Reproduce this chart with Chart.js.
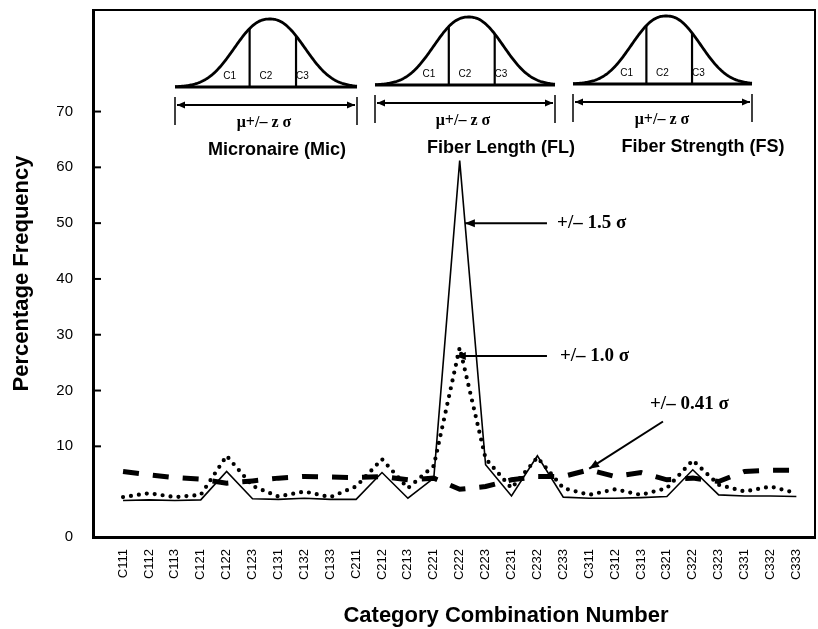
<!DOCTYPE html>
<html>
<head>
<meta charset="utf-8">
<script src="https://cdn.jsdelivr.net/npm/chart.js@4.4.1/dist/chart.umd.min.js"></script>
<style>
  body { margin: 0; background: #fff; }
  canvas { display: block; }
</style>
</head>
<body>
<canvas id="chart" width="818" height="629"></canvas>
<script>
// category combinations (Mic, FL, FS classes)
const categories = ['C111', 'C112', 'C113', 'C121', 'C122', 'C123', 'C131', 'C132', 'C133',
  'C211', 'C212', 'C213', 'C221', 'C222', 'C223', 'C231', 'C232', 'C233',
  'C311', 'C312', 'C313', 'C321', 'C322', 'C323', 'C331', 'C332', 'C333'];

// percentage frequency for each z value
const sigma15 = [0.3, 0.4, 0.3, 0.4, 5.5, 0.6, 0.5, 0.7, 0.5,
  0.5, 5.3, 0.7, 4.3, 61.2, 6.7, 1.1, 8.3, 0.9,
  0.7, 0.7, 0.8, 1.0, 5.8, 1.3, 1.1, 1.1, 1.0];
const sigma10 = [0.9, 1.6, 0.9, 1.3, 8.3, 2.9, 1.0, 1.9, 0.9,
  2.8, 7.7, 2.5, 6.5, 27.7, 7.8, 2.5, 8.0, 2.5,
  1.3, 2.3, 1.3, 2.5, 7.5, 3.1, 1.9, 2.8, 1.6];
const sigma041 = [5.5, 4.9, 4.4, 4.1, 3.4, 3.8, 4.3, 4.6, 4.5,
  4.4, 4.6, 4.0, 4.3, 2.3, 2.8, 4.0, 4.6, 4.6,
  5.8, 4.6, 5.3, 4.0, 4.3, 3.7, 5.5, 5.7, 5.7];

const yTicks = [10, 20, 30, 40, 50, 60, 70];
const yMin = -6.25, yMax = 88.2;
const xMin = -1.16, xMax = 26.72;

// arrow call-outs: tip and tail in (category index, value)
const callouts = [
  { text: '+/\u2013 1.5 \u03c3', tip: [13.2, 50], tail: [16.37, 50], label: [16.76, 50] },
  { text: '+/\u2013 1.0 \u03c3', tip: [12.85, 26.2], tail: [16.37, 26.2], label: [16.87, 26.2] },
  { text: '+/\u2013 0.41 \u03c3', tip: [18.0, 6.0], tail: [20.85, 14.45], label: [20.35, 17.5] }
];

// normal-curve insets at the top of the plot (canvas px)
const insets = [
  { x0: 175, x1: 357, base: 87, muX: 264, labelX: 277, label: 'Micronaire (Mic)' },
  { x0: 375, x1: 555, base: 85, muX: 463, labelX: 501, label: 'Fiber Length (FL)' },
  { x0: 573, x1: 752, base: 84, muX: 662, labelX: 703, label: 'Fiber Strength (FS)' }
];

const SANS = "'Liberation Sans', Arial, sans-serif";
const SERIF = "'Liberation Serif', 'Times New Roman', serif";
Chart.defaults.font.family = SANS;
Chart.defaults.color = '#000';

function line(ctx, x1, y1, x2, y2) {
  ctx.beginPath();
  ctx.moveTo(x1, y1);
  ctx.lineTo(x2, y2);
  ctx.stroke();
}

function arrowHead(ctx, x1, y1, x2, y2, len, half) {
  const ang = Math.atan2(y2 - y1, x2 - x1);
  ctx.beginPath();
  ctx.moveTo(x2, y2);
  ctx.lineTo(x2 - len * Math.cos(ang) + half * Math.sin(ang), y2 - len * Math.sin(ang) - half * Math.cos(ang));
  ctx.lineTo(x2 - len * Math.cos(ang) - half * Math.sin(ang), y2 - len * Math.sin(ang) + half * Math.cos(ang));
  ctx.closePath();
  ctx.fill();
}

function drawInset(ctx, b) {
  const w = b.x1 - b.x0;
  const c = b.x0 + 0.52 * w;
  const s = 0.185 * w;
  const h = 68;
  // slightly flattened bell so the top reads broad like the original
  const f = px => {
    const z = (px - c) / s;
    return b.base - h * Math.exp(-Math.pow(Math.abs(z), 2.3) / 2);
  };

  ctx.lineWidth = 2.8;
  ctx.beginPath();
  for (let px = b.x0; px <= b.x1; px++) {
    if (px === b.x0) ctx.moveTo(px, f(px)); else ctx.lineTo(px, f(px));
  }
  ctx.stroke();

  ctx.lineWidth = 3;
  line(ctx, b.x0, b.base, b.x1, b.base);

  ctx.lineWidth = 2.2;
  [0.41, 0.665].forEach(t => {
    const px = b.x0 + t * w;
    line(ctx, px, b.base, px, f(px));
  });

  ctx.font = '10px ' + SANS;
  ctx.textAlign = 'center';
  ctx.textBaseline = 'middle';
  ['C1', 'C2', 'C3'].forEach((t, i) => ctx.fillText(t, b.x0 + (0.3 + 0.2 * i) * w, b.base - 11));

  // range marker under the curve
  ctx.lineWidth = 1.5;
  line(ctx, b.x0, b.base + 10, b.x0, b.base + 38);
  line(ctx, b.x1, b.base + 10, b.x1, b.base + 38);
  const dy = b.base + 18;
  ctx.lineWidth = 2;
  line(ctx, b.x0 + 2, dy, b.x1 - 2, dy);
  arrowHead(ctx, b.x1 - 20, dy, b.x0 + 2, dy, 8, 3.5);
  arrowHead(ctx, b.x0 + 20, dy, b.x1 - 2, dy, 8, 3.5);

  ctx.font = 'bold 16px ' + SERIF;
  ctx.fillText('\u03bc+/\u2013 z \u03c3', b.muX, b.base + 36);
  ctx.font = 'bold 18px ' + SANS;
  ctx.fillText(b.label, b.labelX, b.base + 63);
}

const decorations = {
  id: 'decorations',
  afterDraw(chart) {
    const { ctx, chartArea: a, scales: { x, y } } = chart;
    ctx.save();
    ctx.strokeStyle = '#000';
    ctx.fillStyle = '#000';

    // top and right frame
    ctx.lineWidth = 2;
    ctx.beginPath();
    ctx.moveTo(a.left, a.top);
    ctx.lineTo(a.right, a.top);
    ctx.lineTo(a.right, a.bottom);
    ctx.stroke();

    // inward tick marks
    yTicks.forEach(v => {
      const py = y.getPixelForValue(v);
      line(ctx, a.left, py, a.left + 8, py);
    });

    insets.forEach(b => drawInset(ctx, b));

    // call-outs
    callouts.forEach(c => {
      const tx = x.getPixelForValue(c.tip[0]), ty = y.getPixelForValue(c.tip[1]);
      const sx = x.getPixelForValue(c.tail[0]), sy = y.getPixelForValue(c.tail[1]);
      ctx.lineWidth = 2;
      line(ctx, sx, sy, tx, ty);
      arrowHead(ctx, sx, sy, tx, ty, 10, 4);
      ctx.font = 'bold 19px ' + SERIF;
      ctx.textAlign = 'left';
      ctx.textBaseline = 'middle';
      ctx.fillText(c.text, x.getPixelForValue(c.label[0]), y.getPixelForValue(c.label[1]));
    });

    // x axis title
    ctx.font = 'bold 22px ' + SANS;
    ctx.textAlign = 'center';
    ctx.textBaseline = 'middle';
    ctx.fillText('Category Combination Number', (a.left + a.right) / 2 + 52, 616);

    ctx.restore();
  }
};

const toPoints = arr => arr.map((v, i) => ({ x: i, y: v }));

new Chart(document.getElementById('chart'), {
  type: 'line',
  data: {
    datasets: [
      {
        label: '+/- 0.41 sigma',
        data: toPoints(sigma041),
        borderColor: '#000',
        borderWidth: 5,
        borderDash: [16, 14],
        pointRadius: 0,
        tension: 0
      },
      {
        label: '+/- 1.0 sigma',
        data: toPoints(sigma10),
        borderColor: '#000',
        borderWidth: 4.2,
        borderDash: [0, 8],
        borderCapStyle: 'round',
        pointRadius: 0,
        tension: 0
      },
      {
        label: '+/- 1.5 sigma',
        data: toPoints(sigma15),
        borderColor: '#000',
        borderWidth: 1.6,
        pointRadius: 0,
        tension: 0
      }
    ]
  },
  options: {
    responsive: false,
    animation: false,
    layout: { padding: { top: 10, right: 3, left: 0, bottom: 0 } },
    plugins: {
      legend: { display: false },
      tooltip: { enabled: false }
    },
    scales: {
      x: {
        type: 'linear',
        min: xMin,
        max: xMax,
        afterBuildTicks: scale => {
          scale.ticks = categories.map((c, i) => ({ value: i }));
        },
        afterFit: scale => {
          scale.height = 92;
          scale.paddingLeft = 0;
          scale.paddingRight = 0;
        },
        ticks: {
          autoSkip: false,
          maxRotation: 90,
          minRotation: 90,
          padding: 12,
          font: { size: 13 },
          callback: v => categories[v]
        },
        grid: { display: false, drawTicks: false },
        border: { display: true, color: '#000', width: 3 }
      },
      y: {
        min: yMin,
        max: yMax,
        afterBuildTicks: scale => {
          scale.ticks = [yMin].concat(yTicks).map(v => ({ value: v }));
        },
        afterFit: scale => {
          scale.width = 93;
          scale.paddingTop = 0;
          scale.paddingBottom = 0;
        },
        ticks: {
          padding: 20,
          font: { size: 15 },
          callback: v => (v === yMin ? '0' : v)
        },
        grid: { display: false, drawTicks: false },
        border: { display: true, color: '#000', width: 3 },
        title: {
          display: true,
          text: 'Percentage Frequency',
          font: { size: 22, weight: 'bold' },
          padding: { top: 9 }
        }
      }
    }
  },
  plugins: [decorations]
});
</script>
</body>
</html>
